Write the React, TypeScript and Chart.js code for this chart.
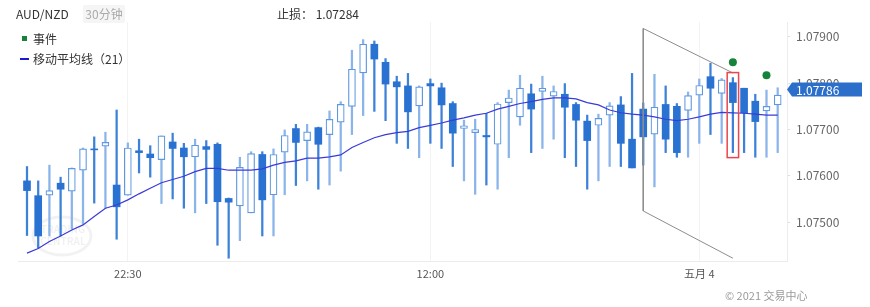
import React, { useEffect, useRef } from "react";
import { Chart, registerables } from "chart.js";

Chart.register(...registerables);

// ---------- DATA ----------
const categories = [
  "05-02 18:00", "05-02 18:30", "05-02 19:00", "05-02 19:30", "05-02 20:00", "05-02 20:30",
  "05-02 21:00", "05-02 21:30", "05-02 22:00", "05-02 22:30", "05-02 23:00", "05-02 23:30",
  "05-03 00:00", "05-03 00:30", "05-03 01:00", "05-03 01:30", "05-03 02:00", "05-03 02:30",
  "05-03 03:00", "05-03 03:30", "05-03 04:00", "05-03 04:30", "05-03 05:00", "05-03 05:30",
  "05-03 06:00", "05-03 06:30", "05-03 07:00", "05-03 07:30", "05-03 08:00", "05-03 08:30",
  "05-03 09:00", "05-03 09:30", "05-03 10:00", "05-03 10:30", "05-03 11:00", "05-03 11:30",
  "05-03 12:00", "05-03 12:30", "05-03 13:00", "05-03 13:30", "05-03 14:00", "05-03 14:30",
  "05-03 15:00", "05-03 15:30", "05-03 16:00", "05-03 16:30", "05-03 17:00", "05-03 17:30",
  "05-03 18:00", "05-03 18:30", "05-03 19:00", "05-03 19:30", "05-03 20:00", "05-03 20:30",
  "05-03 21:00", "05-03 21:30", "05-03 22:00", "05-03 22:30", "05-03 23:00", "05-03 23:30",
  "05-04 00:00", "05-04 00:30", "05-04 01:00", "05-04 01:30", "05-04 02:00", "05-04 02:30",
  "05-04 03:00", "05-04 03:30",
];

const opens = [
  1.07589, 1.07557, 1.07558, 1.07584, 1.07567, 1.07612, 1.07658, 1.07664, 1.0758, 1.07558,
  1.07654, 1.07647, 1.07635, 1.07673, 1.0766, 1.07641, 1.07663, 1.07668, 1.07551, 1.07535,
  1.0752, 1.07646, 1.07559, 1.07651, 1.07702, 1.07676, 1.07704, 1.07689, 1.07716, 1.0775,
  1.07822, 1.07884, 1.07845, 1.07803, 1.07794, 1.07751, 1.07799, 1.0779, 1.07756, 1.07702,
  1.07693, 1.07687, 1.07668, 1.07758, 1.07727, 1.07777, 1.07782, 1.07772, 1.07776, 1.07754,
  1.07718, 1.07709, 1.07731, 1.07753, 1.07679, 1.07744, 1.0769, 1.07754, 1.0775, 1.07741,
  1.07774, 1.07814, 1.07778, 1.07801, 1.07789, 1.07761, 1.0774, 1.07753,
];

const highs = [
  1.0762, 1.07589, 1.07623, 1.07597, 1.07617, 1.0766, 1.07684, 1.07694, 1.07742, 1.07671,
  1.07679, 1.07665, 1.07686, 1.07692, 1.0767, 1.07679, 1.07676, 1.07671, 1.07552, 1.0764,
  1.07652, 1.07652, 1.07658, 1.07699, 1.07711, 1.07711, 1.07705, 1.0774, 1.0776, 1.07871,
  1.07894, 1.07891, 1.07853, 1.07815, 1.07821, 1.07794, 1.07809, 1.078, 1.0776, 1.0772,
  1.07722, 1.07735, 1.07758, 1.07785, 1.07817, 1.07798, 1.07815, 1.07794, 1.07799, 1.07758,
  1.07731, 1.07733, 1.07758, 1.07771, 1.07821, 1.07757, 1.07819, 1.07794, 1.07756, 1.07781,
  1.07809, 1.07843, 1.0781, 1.07812, 1.07789, 1.07776, 1.07785, 1.0779,
];

const lows = [
  1.07471, 1.07444, 1.0747, 1.0747, 1.07485, 1.07496, 1.07541, 1.0753, 1.07463, 1.07558,
  1.07606, 1.07597, 1.0754, 1.0755, 1.0753, 1.0752, 1.0754, 1.0745, 1.07422, 1.0746,
  1.0752, 1.0747, 1.0747, 1.07559, 1.07579, 1.07589, 1.07571, 1.0758, 1.0761, 1.07689,
  1.0773, 1.07739, 1.07719, 1.0767, 1.07659, 1.07639, 1.0767, 1.07659, 1.0762, 1.07589,
  1.0756, 1.0758, 1.07571, 1.07639, 1.07709, 1.0765, 1.07659, 1.07679, 1.07639, 1.0762,
  1.07571, 1.07589, 1.0762, 1.0762, 1.07617, 1.07623, 1.07576, 1.0765, 1.0764, 1.0764,
  1.0767, 1.07689, 1.0767, 1.0765, 1.0765, 1.0764, 1.0764, 1.0765,
];

const closes = [
  1.07568, 1.0747, 1.07568, 1.07571, 1.07616, 1.07658, 1.07656, 1.07672, 1.07533, 1.0766,
  1.0765, 1.07639, 1.07686, 1.07659, 1.07641, 1.07666, 1.07657, 1.07544, 1.07543, 1.07618,
  1.07648, 1.07548, 1.07646, 1.07687, 1.07672, 1.07695, 1.07668, 1.07722, 1.07754, 1.0783,
  1.07884, 1.07852, 1.07798, 1.07792, 1.07738, 1.07792, 1.07794, 1.07753, 1.07692, 1.07708,
  1.077, 1.07684, 1.07755, 1.07768, 1.07789, 1.07744, 1.07789, 1.07782, 1.07748, 1.0772,
  1.07676, 1.07724, 1.07751, 1.0767, 1.07617, 1.07684, 1.07748, 1.07679, 1.0765, 1.07773,
  1.07795, 1.07789, 1.07807, 1.07758, 1.07736, 1.07717, 1.0775, 1.07774,
];

const ma21 = [
  1.07433, 1.07443, 1.07458, 1.0747, 1.07483, 1.07494, 1.07512, 1.0753, 1.07537, 1.07548,
  1.07561, 1.07573, 1.07585, 1.07592, 1.07599, 1.07609, 1.07616, 1.07616, 1.07612, 1.07612,
  1.07612, 1.07615, 1.07623, 1.07629, 1.07632, 1.07638, 1.07638, 1.07641, 1.07645, 1.07661,
  1.07672, 1.07682, 1.07689, 1.07693, 1.07696, 1.07704, 1.07709, 1.07714, 1.0772, 1.07725,
  1.07731, 1.07735, 1.07744, 1.0775, 1.07756, 1.0776, 1.07765, 1.07768, 1.07768, 1.07766,
  1.07758, 1.07753, 1.07742, 1.07736, 1.07733, 1.07731, 1.07727, 1.07722, 1.07719, 1.07722,
  1.07727, 1.07733, 1.07737, 1.07736, 1.07735, 1.07733, 1.07731, 1.07731,
];

const eventTimes = ["05-04 01:30", "05-04 03:00"];
const eventPrices = [1.07845, 1.07817];

const patternTimes = ["05-04 01:30", "05-03 21:30", "05-03 21:30", "05-04 01:30"];
const patternPrices = [1.07822, 1.07918, 1.07524, 1.07422];

const highlightTime = "05-04 01:30";
const lastPrice = 1.07786;
const stopLoss = "1.07284";

const xTickTimes = ["05-02 22:30", "05-03 12:00", "05-04 00:00"];
const xTickLabels = ["22:30", "12:00", "五月 4"];
const yTicks = [1.075, 1.076, 1.077, 1.078, 1.079];

const FONT = "'Noto Sans CJK SC', 'Noto Sans', sans-serif";

const pos = (t: string) => categories.indexOf(t) + 1;

export default function App() {
  const ref = useRef<HTMLCanvasElement | null>(null);

  useEffect(() => {
    if (!ref.current) return;
    Chart.defaults.font.family = FONT;

    const up = closes.map((c, i) => c >= opens[i]);

    const bodies = categories.map((_, i) => ({ x: i + 1, y: [opens[i], closes[i]] }));
    const wicks = categories.map((_, i) => ({ x: i + 1, y: [lows[i], highs[i]] }));

    const extras = {
      id: "extras",
      beforeDatasetsDraw(chart: any) {
        const ctx = chart.ctx;
        ctx.save();
        ctx.strokeStyle = "rgba(0,0,0,0.05)";
        ctx.lineWidth = 3;
        ctx.beginPath();
        ctx.ellipse(62, 236, 29, 19, 0, 0, Math.PI * 2);
        ctx.stroke();
        ctx.fillStyle = "rgba(0,0,0,0.06)";
        ctx.font = "bold 10px " + FONT;
        ctx.textAlign = "center";
        ctx.textBaseline = "middle";
        ctx.fillText("TRADING", 63, 229);
        ctx.fillText("CENTRAL", 63, 241);
        ctx.restore();
      },
      afterDatasetsDraw(chart: any) {
        const ctx = chart.ctx;
        const xs = chart.scales.x;
        const ys = chart.scales.y;
        const i = categories.indexOf(highlightTime);
        const cx = xs.getPixelForValue(i + 1);
        const top = ys.getPixelForValue(highs[i]) - 5;
        const bot = ys.getPixelForValue(lows[i]) + 5;
        ctx.save();
        ctx.strokeStyle = "#e8474c";
        ctx.lineWidth = 1.5;
        ctx.strokeRect(cx - 5.7, top, 11.4, bot - top);
        ctx.restore();
      },
      afterDraw(chart: any) {
        const ctx = chart.ctx;
        const ys = chart.scales.y;
        const y = ys.getPixelForValue(lastPrice);
        const x0 = chart.chartArea.right;
        ctx.save();
        ctx.fillStyle = "#2b6fcb";
        ctx.beginPath();
        ctx.moveTo(x0, y);
        ctx.lineTo(x0 + 5, y - 7);
        ctx.lineTo(862, y - 7);
        ctx.lineTo(862, y + 7);
        ctx.lineTo(x0 + 5, y + 7);
        ctx.closePath();
        ctx.fill();
        ctx.fillStyle = "#ffffff";
        ctx.font = "12px " + FONT;
        ctx.textAlign = "left";
        ctx.textBaseline = "middle";
        ctx.fillText(lastPrice.toFixed(5), x0 + 9, y + 0.5);
        ctx.restore();
      },
    };

    const chart = new Chart(ref.current, {
      type: "bar",
      data: {
        datasets: [
          {
            type: "line",
            label: "pattern",
            data: patternTimes.map((t, i) => ({ x: pos(t), y: patternPrices[i] })),
            borderColor: "#8c8c8c",
            borderWidth: 1,
            pointRadius: 0,
            order: 0,
          } as any,
          {
            type: "line",
            label: "MA21",
            data: ma21.map((v, i) => ({ x: i + 1, y: v })),
            borderColor: "#3a3ad8",
            borderWidth: 1.2,
            pointRadius: 0,
            tension: 0,
            order: 0,
          } as any,
          {
            type: "scatter",
            label: "事件",
            data: eventTimes.map((t, i) => ({ x: pos(t), y: eventPrices[i] })),
            backgroundColor: "#16823c",
            borderWidth: 0,
            pointRadius: 4,
            order: 0,
          } as any,
          {
            label: "body",
            data: bodies as any,
            backgroundColor: up.map((u) => (u ? "#ffffff" : "#2a72d2")),
            borderColor: up.map((u) => (u ? "#5e98e0" : "#2a72d2")),
            borderWidth: up.map((u) => (u ? 1.2 : 0)),
            borderSkipped: false,
            barThickness: 7,
            grouped: false,
            order: 1,
          } as any,
          {
            label: "wick",
            data: wicks as any,
            backgroundColor: up.map((u) => (u ? "#8ab4ea" : "#3d82d8")),
            borderWidth: 0,
            barThickness: 1.6,
            grouped: false,
            order: 2,
          } as any,
        ],
      },
      options: {
        responsive: false,
        animation: false,
        events: [],
        layout: { padding: { left: 18, top: 22, right: 0, bottom: 0 } },
        plugins: { legend: { display: false }, tooltip: { enabled: false } },
        scales: {
          x: {
            type: "linear",
            offset: false,
            min: 0.197,
            max: 68.83,
            afterBuildTicks: (s: any) => {
              s.ticks = xTickTimes.map((t) => ({ value: pos(t) }));
            },
            afterFit: (s: any) => {
              s.height = 46;
            },
            ticks: {
              autoSkip: false,
              maxRotation: 0,
              padding: 6,
              color: "#555",
              font: { size: 11 },
              callback: (v: any) => {
                const k = xTickTimes.findIndex((t) => pos(t) === v);
                return k >= 0 ? xTickLabels[k] : "";
              },
            },
            grid: { color: "#f3f3f3", drawTicks: false, offset: false },
            border: { display: true, color: "#ececec" },
          },
          y: {
            type: "linear",
            position: "right",
            min: 1.07416,
            max: 1.07932,
            afterBuildTicks: (s: any) => {
              s.ticks = yTicks.map((v) => ({ value: v }));
            },
            afterFit: (s: any) => {
              s.width = 83;
            },
            ticks: {
              padding: 6,
              color: "#666",
              font: { size: 12 },
              callback: (v: any) => Number(v).toFixed(5),
            },
            grid: { drawOnChartArea: false, tickLength: 3, color: "#dedede" },
            border: { display: true, color: "#ececec" },
          },
        },
      } as any,
      plugins: [extras],
    });

    return () => chart.destroy();
  }, []);

  const txt: React.CSSProperties = {
    position: "absolute",
    fontFamily: FONT,
    fontSize: 12,
    lineHeight: "16px",
    color: "#333",
    whiteSpace: "nowrap",
  };

  return (
    <div style={{ position: "fixed", left: 0, top: 0, width: 870, height: 307, background: "#fff" }}>
      <canvas ref={ref} width={870} height={307} style={{ position: "absolute", left: 0, top: 0 }} />
      <div style={{ ...txt, left: 16, top: 6 }}>AUD/NZD</div>
      <div
        style={{
          ...txt,
          left: 83,
          top: 5,
          width: 42,
          height: 18,
          lineHeight: "18px",
          textAlign: "center",
          background: "#f5f5f5",
          color: "#aaa",
          borderRadius: 2,
        }}
      >
        30分钟
      </div>
      <div style={{ ...txt, left: 277, top: 6 }}>止损： {stopLoss}</div>
      <div style={{ position: "absolute", left: 22, top: 36, width: 5, height: 5, background: "#16823c" }} />
      <div style={{ ...txt, left: 33, top: 31 }}>事件</div>
      <div style={{ position: "absolute", left: 20, top: 58, width: 9, height: 2, background: "#1a1ad0" }} />
      <div style={{ ...txt, left: 33, top: 51 }}>移动平均线（21）</div>
      <div style={{ ...txt, left: 725, top: 287, fontSize: 11, color: "#999" }}>© 2021 交易中心</div>
    </div>
  );
}
